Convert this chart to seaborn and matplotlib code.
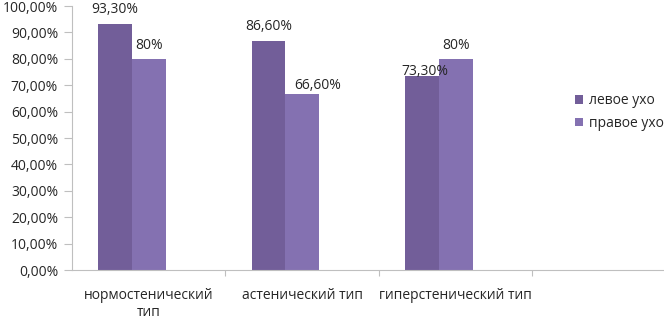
import numpy as np
import pandas as pd
import matplotlib
matplotlib.use('Agg')
import matplotlib.pyplot as plt
from matplotlib.patches import Patch
from matplotlib.ticker import FuncFormatter, FixedLocator
import seaborn as sns

sns.set_theme(style='white')
plt.rcParams['font.family'] = ['Open Sans', 'DejaVu Sans']

## Data.
categories = ['нормостенический\nтип', 'астенический тип', 'гиперстенический тип']
series = ['левое ухо', 'правое ухо']
left_ear = [93.3, 86.6, 73.3]
right_ear = [80.0, 66.6, 80.0]
yticks = np.arange(0, 101, 10)

## Styles.
palette = ['#725e99', '#8471b1']
axiscolor = '#bfbfbf'
textcolor = '#262626'
# label offsets (points) per series / category, as placed in the original
label_offsets = [[(0, 4.5), (0, 5), (2, -1.5)],
                 [(0, 4.5), (11, 1), (0, 4.5)]]

df = pd.DataFrame({
    'cat': categories * 2,
    'series': [series[0]] * 3 + [series[1]] * 3,
    'value': left_ear + right_ear,
})

fig = plt.figure(figsize=(6.64, 3.2), dpi=100)
ax = fig.add_axes([0.1084, 0.15625, 0.8916, 0.825])

sns.barplot(data=df, x='cat', y='value', hue='series',
            order=categories + [' '], hue_order=series + ['_empty'],
            palette=palette + ['#ffffff'], width=0.66, gap=0, errorbar=None,
            saturation=1, legend=False, ax=ax, linewidth=0)

def fmt(v):
    return f'{v:.0f}%' if float(v).is_integer() else f'{v:.2f}%'.replace('.', ',')

for i, cont in enumerate(ax.containers[:2]):
    for j, bar in enumerate(cont):
        h = bar.get_height()
        if np.isnan(h):
            continue
        dx, dy = label_offsets[i][j]
        ax.annotate(fmt(h), (bar.get_x() + bar.get_width() / 2, h),
                    xytext=(dx, dy), textcoords='offset points',
                    ha='center', va='bottom', fontsize=10, color=textcolor)

## Axes.
ax.set_xlim(-0.5, 3.357)
ax.set_ylim(0, 100)
ax.set_yticks(yticks)
ax.yaxis.set_major_formatter(FuncFormatter(lambda v, p: f'{v:.2f}%'.replace('.', ',')))
ax.set_xticks(range(3))
ax.set_xticklabels(categories, fontsize=10, color=textcolor, linespacing=1.15)
ax.xaxis.set_minor_locator(FixedLocator([0.5, 1.5, 2.5]))
ax.tick_params(axis='x', which='major', length=0, pad=13)
ax.tick_params(axis='x', which='minor', bottom=True, length=4, width=0.8, color=axiscolor)
ax.tick_params(axis='y', left=True, length=6, width=0.8, color=axiscolor,
               labelsize=10, labelcolor=textcolor, pad=4)
ax.set_xlabel('')
ax.set_ylabel('')
sns.despine(ax=ax, top=True, right=True)
for s in ['left', 'bottom']:
    ax.spines[s].set(linewidth=0.8, color=axiscolor)

## Legend.
handles = [Patch(facecolor=c, edgecolor='none', label=l) for c, l in zip(palette, series)]
fig.legend(handles=handles, loc='center left', bbox_to_anchor=(0.855, 0.65),
           frameon=False, fontsize=10, labelcolor=textcolor, handlelength=0.6,
           handleheight=0.6, handletextpad=0.4, labelspacing=0.55, borderpad=0)

fig.savefig('out.png', dpi=100)
